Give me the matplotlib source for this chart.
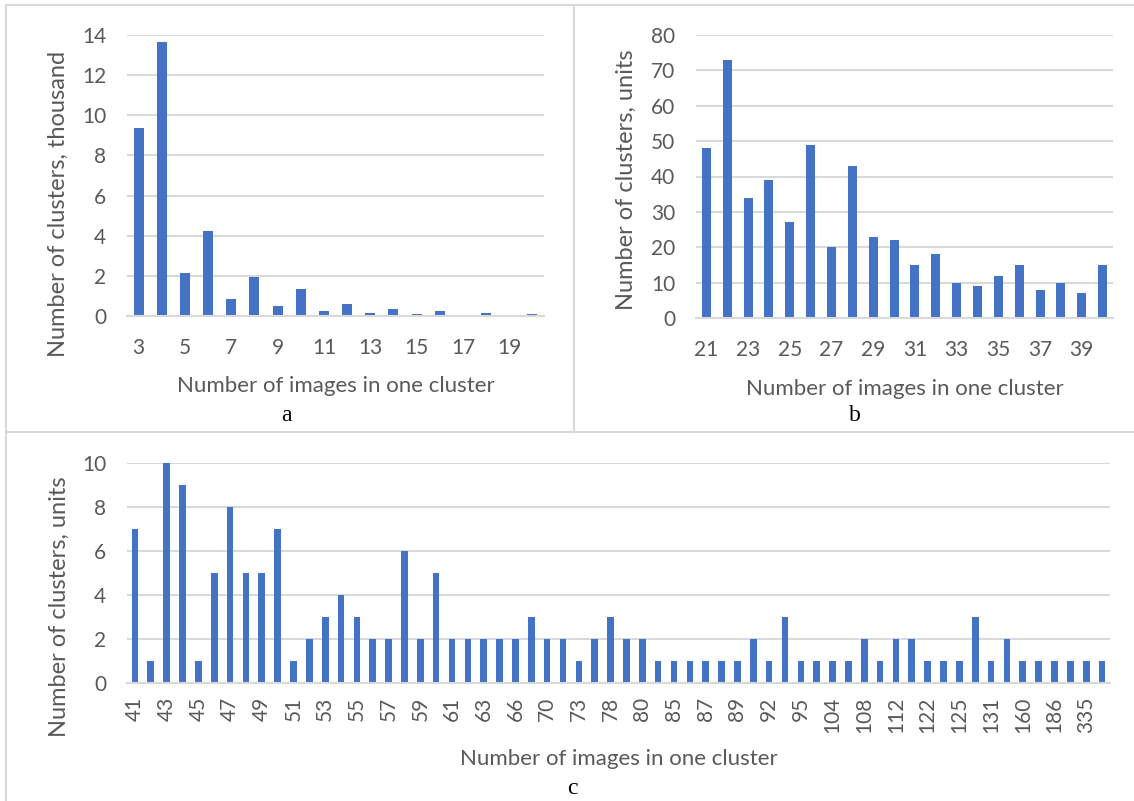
import numpy as np
import matplotlib.pyplot as plt
from matplotlib.lines import Line2D

plt.rcParams['font.family'] = ['Lato', 'DejaVu Sans']

# (a) small clusters, counts in thousands
sizes_a = [3, 4, 5, 6, 7, 8, 9, 10, 11, 12, 13, 14, 15, 16, 17, 18, 19, 20]
counts_a = [9.35, 13.65, 2.15, 4.25, 0.85, 1.95, 0.48, 1.35, 0.24, 0.6,
            0.15, 0.33, 0.11, 0.23, 0.06, 0.13, 0.03, 0.11]

# (b) medium clusters, counts in units
sizes_b = [21, 22, 23, 24, 25, 26, 27, 28, 29, 30,
           31, 32, 33, 34, 35, 36, 37, 38, 39, 40]
counts_b = [48, 73, 34, 39, 27, 49, 20, 43, 23, 22,
            15, 18, 10, 9, 12, 15, 8, 10, 7, 15]

# (c) large clusters, only every second size gets a label on the axis
size_labels_c = ['41', '43', '45', '47', '49', '51', '53', '55', '57', '59',
                 '61', '63', '66', '70', '73', '78', '80', '85', '87', '89',
                 '92', '95', '104', '108', '112', '122', '125', '131', '160',
                 '186', '335']
counts_c = [7, 1, 10, 9, 1, 5, 8, 5, 5, 7,
            1, 2, 3, 4, 3, 2, 2, 6, 2, 5,
            2, 2, 2, 2, 2, 3, 2, 2, 1, 2,
            3, 2, 2, 1, 1, 1, 1, 1, 1, 2,
            1, 3, 1, 1, 1, 1, 2, 1, 2, 2,
            1, 1, 1, 3, 1, 2, 1, 1, 1, 1,
            1, 1]

BAR = '#4472C4'
GRID = '#D9D9D9'
TEXT = '#595959'
TICK_FS = 15
LABEL_FS = 16

W, H = 1134, 801
fig = plt.figure(figsize=(W / 100, H / 100), dpi=100)


def px_axes(left, top, right, bottom):
    return fig.add_axes([left / W, 1 - bottom / H, (right - left) / W, (bottom - top) / H])


def style(ax, ymax, ystep, ylabel, ylab_pos, xlab_y):
    ax.set_ylim(0, ymax)
    ax.set_yticks(np.arange(0, ymax + ystep / 2, ystep))
    ax.grid(axis='y', color=GRID, lw=1.5)
    ax.set_axisbelow(True)
    for s in ['top', 'right', 'left']:
        ax.spines[s].set_visible(False)
    ax.spines['bottom'].set_color(GRID)
    ax.spines['bottom'].set_linewidth(1.5)
    ax.tick_params(length=0, colors=TEXT, labelsize=TICK_FS)
    ax.tick_params(axis='y', pad=15)
    ax.tick_params(axis='x', pad=16)
    ax.set_ylabel(ylabel, color=TEXT, fontsize=LABEL_FS + 1)
    ax.yaxis.set_label_coords(*ylab_pos)
    ax.set_xlabel('Number of images in one cluster', color=TEXT, fontsize=LABEL_FS)
    ax.xaxis.set_label_coords(0.5, xlab_y)


# panel a
ax_a = px_axes(127, 35, 544, 316)
xa = np.arange(len(sizes_a))
ax_a.bar(xa, counts_a, width=0.43, color=BAR)
ax_a.set_xlim(-0.5, len(sizes_a) - 0.5)
ax_a.set_xticks(xa[::2])
ax_a.set_xticklabels([str(s) for s in sizes_a[::2]])
style(ax_a, 14, 2, 'Number of clusters, thousand', (-0.14, 0.40), -0.215)

# panel b
ax_b = px_axes(696, 35, 1113, 318)
xb = np.arange(len(sizes_b))
ax_b.bar(xb, counts_b, width=0.43, color=BAR)
ax_b.set_xlim(-0.5, len(sizes_b) - 0.5)
ax_b.set_xticks(xb[::2])
ax_b.set_xticklabels([str(s) for s in sizes_b[::2]])
style(ax_b, 80, 10, 'Number of clusters, units', (-0.142, 0.49), -0.215)

# panel c
ax_c = px_axes(127, 463, 1110, 683)
xc = np.arange(len(counts_c))
ax_c.bar(xc, counts_c, width=0.42, color=BAR)
ax_c.set_xlim(-0.5, len(counts_c) - 0.5)
ax_c.set_xticks(xc[::2])
ax_c.set_xticklabels(size_labels_c, rotation=90)
style(ax_c, 10, 2, 'Number of clusters, units', (-0.058, 0.345), -0.30)
ax_c.tick_params(axis='x', pad=10)

# panel letters
serif = ['Liberation Serif', 'DejaVu Serif']
fig.text(286 / W, 1 - 415 / H, 'a', family=serif, fontsize=17, ha='center', va='center')
fig.text(855 / W, 1 - 415 / H, 'b', family=serif, fontsize=17, ha='center', va='center')
fig.text(572 / W, 1 - 788 / H, 'c', family=serif, fontsize=17, ha='center', va='center')

# thin frames around the three panels
frame = dict(color=GRID, lw=1.5, transform=fig.transFigure)
fig.add_artist(Line2D([6 / W, 6 / W], [0, 1 - 5 / H], **frame))
fig.add_artist(Line2D([6 / W, 1], [1 - 5 / H, 1 - 5 / H], **frame))
fig.add_artist(Line2D([574 / W, 574 / W], [1 - 5 / H, 1 - 432 / H], **frame))
fig.add_artist(Line2D([6 / W, 1], [1 - 432 / H, 1 - 432 / H], **frame))

fig.savefig('out.png', dpi=100)
